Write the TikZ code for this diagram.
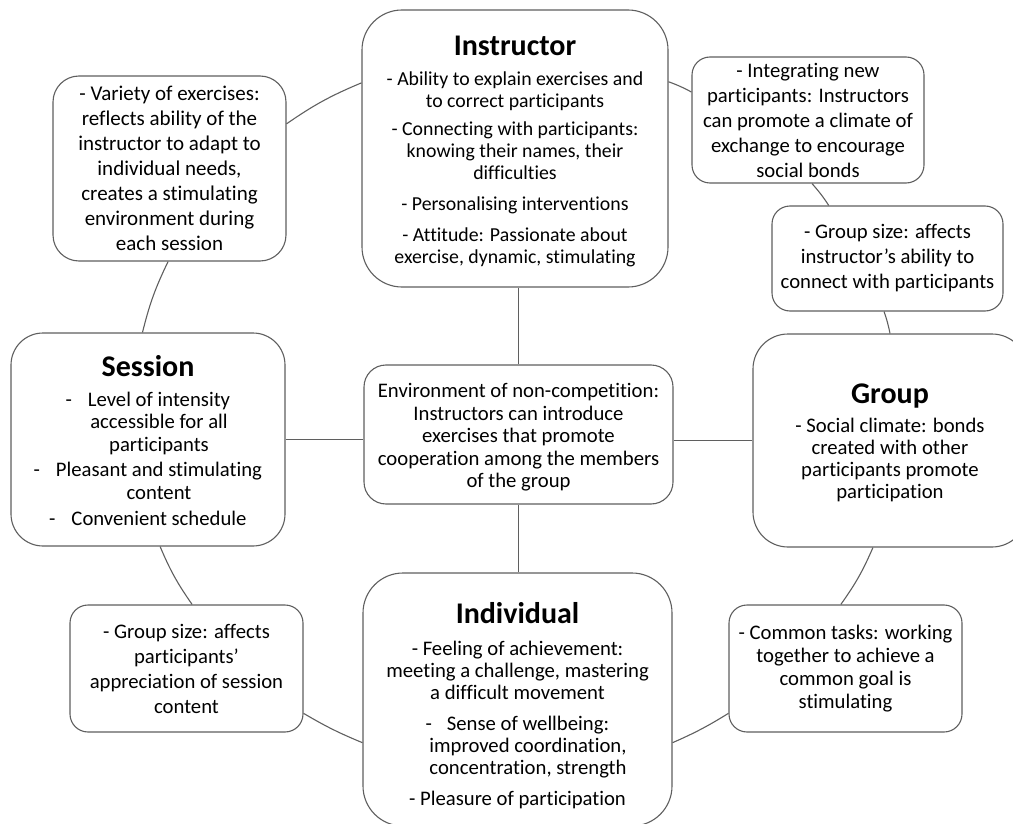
\documentclass[tikz,border=0pt]{standalone}
\usepackage{fontspec}
\setmainfont{Carlito}[Ligatures=NoCommon]
\usetikzlibrary{calc}
\definecolor{ln}{RGB}{95,95,95}
\newcommand\headtxt[1]{{\fontsize{30}{30}\selectfont\bfseries #1}}
\begin{document}
\begin{tikzpicture}[x=1pt,y=-1pt,
  box/.style={draw=ln, line width=1.1pt, fill=white, inner sep=0pt, align=center,
    font=\fontsize{20.7}{25}\selectfont},
  link/.style={draw=ln, line width=1.1pt}]
\useasboundingbox (0,0) rectangle (1013,824);

% boxes
\node[box, rounded corners=40pt, minimum width=306pt, minimum height=277pt,
  font=\fontsize{19.8}{22}\selectfont] (instr) at (515,148.5)
 {\headtxt{\rule{0pt}{26pt}Instructor}\\[8pt]
  - Ability to explain exercises and\\
  to correct participants\\[6pt]
  - Connecting with participants:\\
  knowing their names, their\\
  difficulties\\[9pt]
  - Personalising interventions\\[9pt]
  - Attitude: Passionate about\\
  exercise, dynamic, stimulating};

\node[box, rounded corners=26pt, minimum width=233pt, minimum height=185pt,
  font=\fontsize{21}{25}\selectfont] (var) at (169.5,168.5)
 {- Variety of exercises:\\
  reflects ability of the\\
  instructor to adapt to\\
  individual needs,\\
  creates a stimulating\\
  environment during\\
  each session};

\node[box, rounded corners=32pt, minimum width=274pt, minimum height=213pt,
  font=\fontsize{20.7}{22.5}\selectfont] (sess) at (148,439.5)
 {\headtxt{\rule{0pt}{24pt}Session}\\[7pt]
  \hspace*{22pt}\llap{-\hspace{16pt}}Level of intensity\\
  \hspace*{22pt}accessible for all\\
  \hspace*{22pt}participants\\[3pt]
  \hspace*{22pt}\llap{-\hspace{16pt}}Pleasant and stimulating\\
  \hspace*{22pt}content\\[4pt]
  \hspace*{22pt}\llap{-\hspace{16pt}}Convenient schedule};

\node[box, rounded corners=18pt, minimum width=233pt, minimum height=127pt] (gsl) at (186.5,668.5)
 {- Group size: affects\\
  participants’\\
  appreciation of session\\
  content};

\node[box, rounded corners=22pt, minimum width=309pt, minimum height=139pt,
  font=\fontsize{20.7}{22.5}\selectfont] (cent) at (518.5,434.5)
 {\rule{0pt}{20pt}Environment of non-competition:\\
  Instructors can introduce\\
  exercises that promote\\
  cooperation among the members\\
  of the group};

\node[box, rounded corners=40pt, minimum width=309pt, minimum height=253pt,
  font=\fontsize{20.7}{22}\selectfont] (indiv) at (517.5,699.5)
 {\headtxt{\rule{0pt}{34pt}Individual}\\[10pt]
  - Feeling of achievement:\\
  meeting a challenge, mastering\\
  a difficult movement\\[9pt]
  \hspace*{21pt}\llap{-\hspace{15pt}}Sense of wellbeing:\\
  \hspace*{21pt}improved coordination,\\
  \hspace*{21pt}concentration, strength\\[9pt]
  - Pleasure of participation};

\node[box, rounded corners=18pt, minimum width=232pt, minimum height=126pt] (integ) at (808,120)
 {- Integrating new\\
  participants: Instructors\\
  can promote a climate of\\
  exchange to encourage\\
  social bonds};

\node[box, rounded corners=18pt, minimum width=231pt, minimum height=105pt] (gsr) at (887.5,258.5)
 {- Group size: affects\\
  instructor’s ability to\\
  connect with participants};

\node[box, rounded corners=35pt, minimum width=274pt, minimum height=213pt,
  font=\fontsize{20.7}{22}\selectfont] (group) at (890,440.5)
 {\headtxt{\rule{0pt}{24pt}Group}\\[7pt]
  - Social climate: bonds\\
  created with other\\
  participants promote\\
  participation};

\node[box, rounded corners=18pt, minimum width=233pt, minimum height=127pt,
  font=\fontsize{20.7}{23}\selectfont] (common) at (845.5,668.5)
 {- Common tasks: working\\
  together to achieve a\\
  common goal is\\
  stimulating};

% links to the centre
\draw[link] (cent.north) -- (cent.north |- instr.south);
\draw[link] (sess.east) -- (sess.east -| cent.west);
\draw[link] (group.west) -- (group.west -| cent.east);
\draw[link] (cent.south) -- (cent.south |- indiv.north);

% ring of links
\draw[link] ($(instr.north west)!0.264!(instr.south west)$) to[bend right=6]
            ($(var.north east)!0.26!(var.south east)$);
\draw[link] ($(var.south west)!0.494!(var.south east)$) to[bend right=6]
            ($(sess.north west)!0.48!(sess.north east)$);
\draw[link] ($(sess.south west)!0.544!(sess.south east)$) to[bend right=6]
            ($(gsl.north west)!0.524!(gsl.north east)$);
\draw[link] ($(gsl.north east)!0.85!(gsl.south east)$) to[bend right=4]
            ($(indiv.north west)!0.67!(indiv.south west)$);
\draw[link] ($(indiv.north east)!0.67!(indiv.south east)$) to[bend right=4]
            ($(common.north west)!0.85!(common.south west)$);
\draw[link] ($(common.north west)!0.48!(common.north east)$) to[bend right=6]
            ($(group.south west)!0.438!(group.south east)$);
\draw[link] ($(group.north west)!0.5!(group.north east)$) to[bend right=4]
            ($(gsr.south west)!0.485!(gsr.south east)$);
\draw[link] ($(gsr.north west)!0.247!(gsr.north east)$) to[bend right=4]
            ($(integ.south west)!0.517!(integ.south east)$);
\draw[link] ($(integ.north west)!0.28!(integ.south west)$) to[bend right=4]
            ($(instr.north east)!0.26!(instr.south east)$);
\end{tikzpicture}
\end{document}
